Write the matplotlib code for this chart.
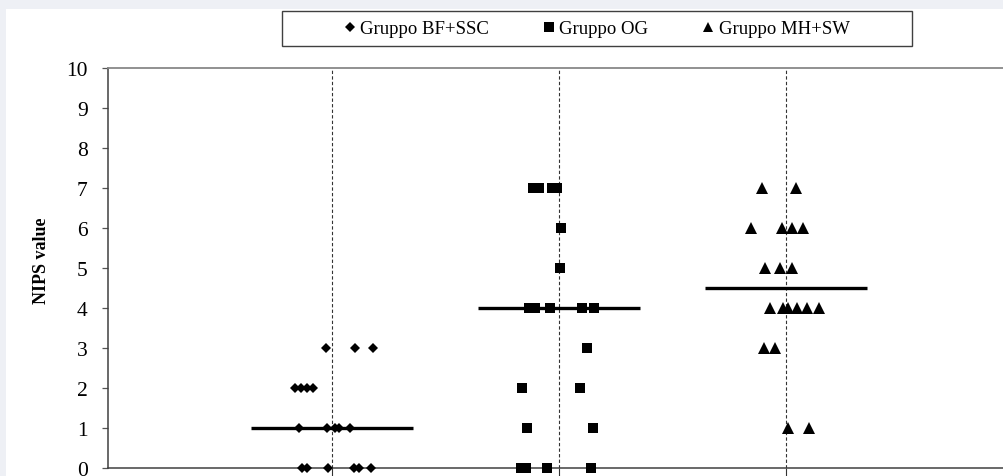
import matplotlib
matplotlib.use("Agg")
import matplotlib.pyplot as plt
from matplotlib.lines import Line2D
from matplotlib.patches import Rectangle

# group names and category positions
groups = ["Gruppo BF+SSC", "Gruppo OG", "Gruppo MH+SW"]
categories = [1, 2, 3]
medians = [1, 4, 4.5]

# jittered x positions and NIPS values
bf_x = [0.972, 1.100, 1.179,
        0.837, 0.863, 0.890, 0.916,
        0.855, 0.978, 1.013, 1.031, 1.079,
        0.870, 0.890, 0.981, 1.097, 1.120, 1.174]
bf_y = [3, 3, 3,
        2, 2, 2, 2,
        1, 1, 1, 1, 1,
        0, 0, 0, 0, 0, 0]

og_x = [1.885, 1.912, 1.971, 1.989,
        2.009,
        2.004,
        1.868, 1.894, 1.960, 2.101, 2.154,
        2.122,
        1.836, 2.093,
        1.859, 2.150,
        1.833, 1.855, 1.946, 2.139]
og_y = [7, 7, 7, 7,
        6,
        5,
        4, 4, 4, 4, 4,
        3,
        2, 2,
        1, 1,
        0, 0, 0, 0]

mh_x = [2.893, 3.044,
        2.846, 2.981, 3.028, 3.075,
        2.907, 2.974, 3.028,
        2.928, 2.987, 3.009, 3.048, 3.091, 3.147,
        2.903, 2.950,
        3.007, 3.101]
mh_y = [7, 7,
        6, 6, 6, 6,
        5, 5, 5,
        4, 4, 4, 4, 4, 4,
        3, 3,
        1, 1]

yticks = list(range(0, 11))

serif = "Liberation Serif"
W, H = 1004, 477

fig = plt.figure(figsize=(W / 100, H / 100), dpi=100, facecolor="#eef0f5")
fig.patches.append(Rectangle((6 / W, 0), 1, (H - 10) / H, transform=fig.transFigure,
                             facecolor="white", edgecolor="none", zorder=-5))

ax = fig.add_axes([108 / W, 8 / H, 905 / W, 400 / H])
ax.set_facecolor("white")

series = [(bf_x, bf_y, "D", 5.6), (og_x, og_y, "s", 7.2), (mh_x, mh_y, "^", 8.4)]
for (xs, ys, mk, ms) in series:
    ax.plot(xs, ys, linestyle="none", marker=mk, markersize=ms, color="black",
            markeredgewidth=0, zorder=3, clip_on=False)

# median bars
ax.hlines(medians, [c - 0.355 for c in categories], [c + 0.355 for c in categories],
          colors="black", linewidth=2.4, zorder=4)

ax.set_xlim(1 - 224 / 227, 4)
ax.set_ylim(0, 10)
ax.set_xticks(categories)
ax.set_xticklabels([])
ax.set_yticks(yticks)
ax.set_yticklabels([str(v) for v in yticks], fontfamily=serif, fontsize=15.5)
ax.tick_params(axis="y", direction="out", length=4.5, width=0.9, color="#555555", pad=10)
ax.tick_params(axis="x", direction="out", length=6, width=0.8, color="#333333")
ax.grid(axis="x", linestyle=(0, (3, 2)), color="#333333", linewidth=0.8)
ax.set_axisbelow(True)

for side in ["left", "bottom"]:
    ax.spines[side].set_color("#404040")
    ax.spines[side].set_linewidth(1.1)
ax.spines["top"].set_color("#888888")
ax.spines["top"].set_linewidth(1.3)
ax.spines["right"].set_visible(False)

ax.set_ylabel("NIPS value", fontfamily=serif, fontsize=13, fontweight="bold")
ax.yaxis.set_label_coords(-0.064, 0.52)

# legend
handles = [Line2D([], [], linestyle="none", marker=mk, markersize=s, color="black", markeredgewidth=0)
           for mk, s in [("D", 5.0), ("s", 7.0), ("^", 7.8)]]
fig.legend(handles, groups, loc="center", bbox_to_anchor=(597 / W, 1 - 29.5 / H),
           ncol=3, frameon=False, prop={"family": serif, "size": 13.5},
           handlelength=0.6, handletextpad=0.25, columnspacing=2.9)
fig.patches.append(Rectangle((282 / W, 1 - 47 / H), 630 / W, 35 / H, transform=fig.transFigure,
                             fill=False, edgecolor="#404040", linewidth=1.0, zorder=1))

fig.savefig("out.png", dpi=100, facecolor=fig.get_facecolor())
